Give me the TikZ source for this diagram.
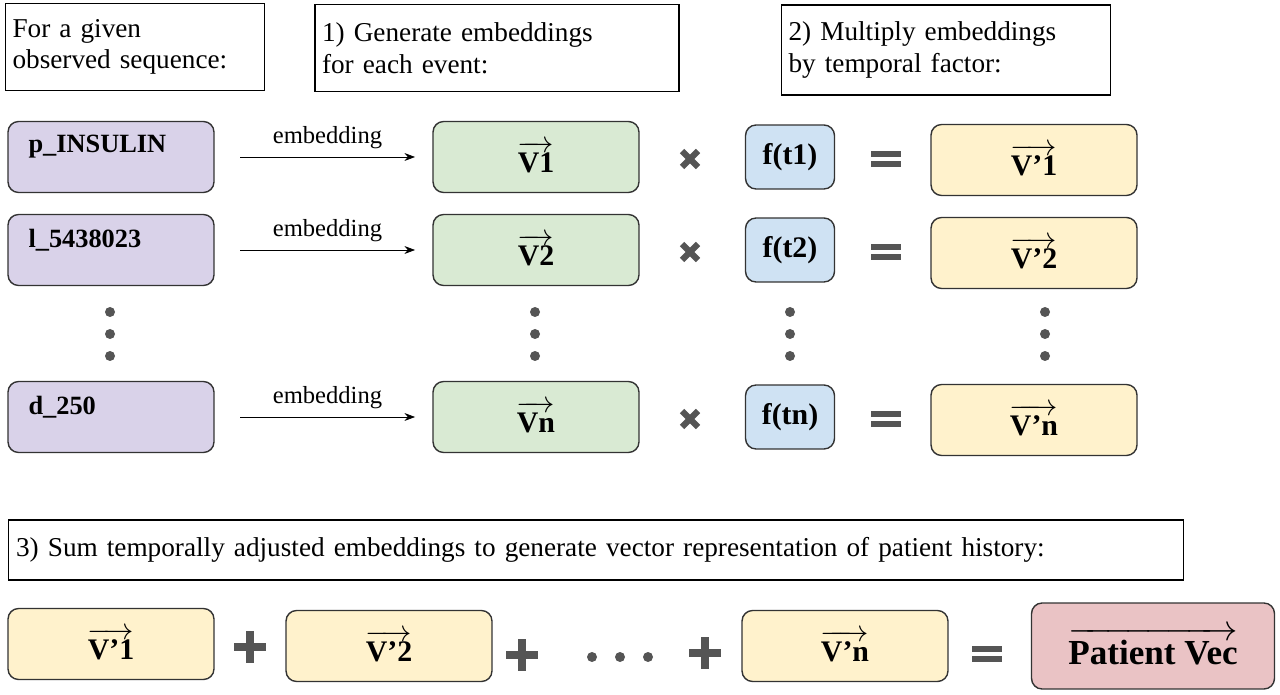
\documentclass[tikz,border=0pt]{standalone}
\usepackage{amsmath}
\usepackage{fontspec}
\setmainfont{Liberation Serif}
\usetikzlibrary{arrows.meta,positioning,calc}
\definecolor{evPurple}{HTML}{D9D2E9}
\definecolor{emGreen}{HTML}{D9EAD3}
\definecolor{tfBlue}{HTML}{CFE2F3}
\definecolor{adYellow}{HTML}{FFF2CC}
\definecolor{ptPink}{HTML}{EAC3C5}
\definecolor{opGray}{HTML}{555555}
\tikzset{
  note/.style={draw,thick,align=left,inner sep=4pt,font=\fontsize{15.5}{18}\selectfont},
  card/.style={draw=black!80,thick,rounded corners=6pt,minimum width=4.12cm,minimum height=1.42cm},
  event/.style={card,fill=evPurple,font=\bfseries\fontsize{15}{17}\selectfont},
  embed/.style={card,fill=emGreen,font=\bfseries\fontsize{17}{19}\selectfont},
  factor/.style={card,fill=tfBlue,minimum width=1.78cm,minimum height=1.28cm,font=\bfseries\fontsize{17}{19}\selectfont},
  adjust/.style={card,fill=adYellow,font=\bfseries\fontsize{17}{19}\selectfont},
  dot/.style={circle,fill=opGray,inner sep=0pt,minimum size=0.2cm},
  opline/.style={draw=opGray,line width=3.6pt},
}
\newcommand\vecT[1]{$\overrightarrow{\text{#1}}$}
\newcommand\opTimes[1]{\draw[opline] ($(#1)+(-8,-8)$) -- ($(#1)+(8,8)$) ($(#1)+(-8,8)$) -- ($(#1)+(8,-8)$);}
\newcommand\opEq[1]{\draw[opline] ($(#1)+(-15,5)$) -- ($(#1)+(15,5)$) ($(#1)+(-15,-5)$) -- ($(#1)+(15,-5)$);}
\newcommand\opPlus[1]{\draw[opline,line width=5pt] ($(#1)+(-16,0)$) -- ($(#1)+(16,0)$) ($(#1)+(0,-16)$) -- ($(#1)+(0,16)$);}
\begin{document}
\begin{tikzpicture}[x=0.02cm,y=-0.02cm]
  \useasboundingbox (0,0) rectangle (1280,695);
  % headings
  \node[note,text width=4.9cm,minimum height=1.74cm] (h0) at (135,47) {For a given\\observed sequence:};
  \node[note,text width=7cm,minimum height=1.74cm] (h1) at (497,48) {1) Generate embeddings\\for each event:};
  \node[note,text width=6.3cm,minimum height=1.8cm] (h2) at (946,50) {2) Multiply embeddings\\by temporal factor:};
  % rows
  \foreach \y/\ev/\k in {157/p\_INSULIN/1, 250/l\_5438023/2, 417/d\_250/n}{
    \node[event] (e\k) at (111,\y) {};
    \node[anchor=west,font=\bfseries\fontsize{15}{17}\selectfont] at ([xshift=0.3cm,yshift=0.2cm]e\k.west) {\ev};
    \node[embed] (v\k) at (536,\y) {\vecT{V\k}};
    \node[factor] (f\k) at (790,\y) {f(t\k)};
    \node[adjust] (w\k) at (1034,\y+3) {\vecT{V’\k}};
    \coordinate (a\k) at (240,\y);
    \coordinate (b\k) at (415,\y);
    \draw[-{Stealth[length=6pt]}] (a\k) -- node[above=1pt,font=\fontsize{14}{16}\selectfont] {embedding} (b\k);
    \coordinate (x\k) at (690,\y+2);
    \coordinate (q\k) at (886,\y+2);
    \opTimes{x\k}
    \opEq{q\k}
  }
  % vertical dots
  \foreach \x in {110,535,790,1045}
    \foreach \y in {312,334,356}
      \node[dot] at (\x,\y) {};
  % sum
  \node[note,minimum width=23.5cm,minimum height=1.2cm,text width=23.2cm] (h3) at (596,550) {3) Sum temporally adjusted embeddings to generate vector representation of patient history:};
  \node[adjust] (s1) at (111,644) {\vecT{V’1}};
  \node[adjust] (s2) at (389,646) {\vecT{V’2}};
  \node[adjust] (sn) at (845,646) {\vecT{V’n}};
  \node[card,fill=ptPink,minimum width=4.86cm,minimum height=1.72cm,font=\bfseries\fontsize{20}{22}\selectfont] (pv) at (1153,646) {\vecT{Patient Vec}};
  \coordinate (p1) at (250,647);
  \coordinate (p2) at (522,655);
  \coordinate (p3) at (705,653);
  \coordinate (eq) at (987,654);
  \opPlus{p1} \opPlus{p2} \opPlus{p3} \opEq{eq}
  \foreach \x in {592,620,648}
    \node[dot] at (\x,657) {};
\end{tikzpicture}
\end{document}
